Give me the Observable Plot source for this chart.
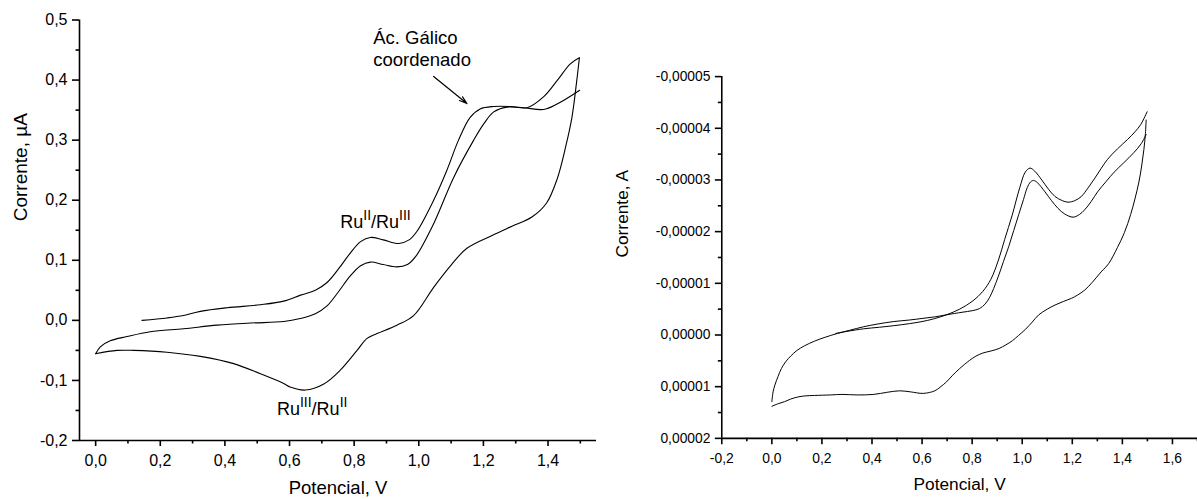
<!DOCTYPE html>
<html><head><meta charset="utf-8">
<script src="https://cdn.jsdelivr.net/npm/d3@7"></script>
<script src="https://cdn.jsdelivr.net/npm/@observablehq/plot@0.6"></script>
<style>
html,body{margin:0;padding:0;background:#fff;overflow:hidden;}
#wrap{position:relative;width:1197px;height:499px;overflow:hidden;background:#fff;}
#left{position:absolute;left:0;top:0;}
#right{position:absolute;left:600px;top:0;}
</style></head><body>
<div id="wrap"><div id="left"></div><div id="right"></div></div>
<script>
// ---------- Left panel data (Potencial V, Corrente µA) ----------
const leftAnodic1 = [
  [0.1435,0.000],[0.221,0.004],[0.272,0.008],[0.324,0.015],[0.407,0.021],[0.510,0.026],
  [0.582,0.032],[0.634,0.042],[0.680,0.050],[0.716,0.063],[0.752,0.086],[0.788,0.112],
  [0.820,0.131],[0.850,0.138],[0.890,0.134],[0.938,0.128],[0.970,0.134],
  [0.994,0.148],[1.046,0.200],[1.087,0.250],[1.123,0.300],[1.159,0.338],[1.190,0.352],
  [1.232,0.356],[1.283,0.356],[1.335,0.354],[1.386,0.372],[1.428,0.399],[1.469,0.427],[1.497,0.437]
];
const leftCathodic = [
  [1.497,0.437],[1.488,0.395],[1.474,0.338],[1.455,0.290],[1.428,0.235],[1.395,0.195],
  [1.350,0.172],[1.290,0.157],[1.230,0.142],[1.149,0.120],[1.100,0.092],[1.046,0.055],
  [0.984,0.008],[0.932,-0.008],[0.871,-0.022],[0.840,-0.030],[0.809,-0.050],[0.757,-0.083],
  [0.706,-0.106],[0.649,-0.116],[0.602,-0.111],[0.582,-0.105],[0.510,-0.089],[0.427,-0.072],
  [0.324,-0.060],[0.221,-0.053],[0.118,-0.050],[0.066,-0.050],[0.000,-0.0555]
];
const leftAnodic2 = [
  [0.000,-0.0555],[0.0145,-0.044],[0.045,-0.034],[0.097,-0.027],[0.169,-0.019],[0.272,-0.014],
  [0.376,-0.008],[0.479,-0.0045],[0.582,-0.002],[0.633,0.003],[0.680,0.011],[0.716,0.024],
  [0.752,0.048],[0.788,0.074],[0.820,0.091],[0.850,0.097],[0.890,0.093],[0.932,0.089],
  [0.965,0.093],[0.990,0.106],[1.046,0.161],[1.108,0.238],[1.170,0.300],
  [1.201,0.327],[1.232,0.347],[1.273,0.355],[1.324,0.354],[1.386,0.351],[1.428,0.360],[1.498,0.383]
];
const leftXTicks = [0,0.2,0.4,0.6,0.8,1.0,1.2,1.4];
const leftXMinor = [0.1,0.3,0.5,0.7,0.9,1.1,1.3,1.5];
const leftYTicks = [-0.2,-0.1,0,0.1,0.2,0.3,0.4,0.5];
const leftYMinor = [-0.15,-0.05,0.05,0.15,0.25,0.35,0.45];
const leftXTitle = "Potencial, V";
const leftYTitle = "Corrente, µA";
const labelOx = "RuII/RuIII", labelOxPos = [0.757, 0.153];
const labelRed = "RuIII/RuII", labelRedPos = [0.561, -0.158];
const labelGallic = "Ác. Gálico\ncoordenado", labelGallicPos = [0.859, 0.423];
const arrowFrom = [1.046, 0.406], arrowTo = [1.149, 0.361];

// ---------- Right panel data (Potencial V, Corrente A) ----------
const rightAnodic1 = [
  [0.255,-0.03e-5],[0.30,-0.07e-5],[0.367,-0.12e-5],[0.43,-0.15e-5],[0.487,-0.18e-5],[0.55,-0.22e-5],
  [0.60,-0.26e-5],[0.645,-0.31e-5],[0.697,-0.39e-5],[0.750,-0.50e-5],[0.803,-0.66e-5],[0.842,-0.84e-5],
  [0.875,-1.08e-5],[0.905,-1.45e-5],[0.930,-1.85e-5],[0.960,-2.32e-5],[0.990,-2.85e-5],[1.012,-3.15e-5],
  [1.031,-3.23e-5],[1.050,-3.17e-5],[1.078,-3.00e-5],[1.105,-2.82e-5],[1.131,-2.68e-5],[1.160,-2.60e-5],
  [1.183,-2.57e-5],[1.210,-2.60e-5],[1.236,-2.68e-5],[1.262,-2.84e-5],[1.288,-3.02e-5],[1.315,-3.22e-5],
  [1.341,-3.40e-5],[1.380,-3.60e-5],[1.420,-3.78e-5],[1.450,-3.93e-5],[1.473,-4.07e-5],[1.499,-4.32e-5]
];
const rightCathodic = [
  [1.495,-4.16e-5],[1.492,-3.90e-5],[1.486,-3.59e-5],[1.477,-3.27e-5],[1.466,-2.96e-5],[1.450,-2.63e-5],
  [1.433,-2.33e-5],[1.408,-1.98e-5],[1.380,-1.69e-5],[1.345,-1.38e-5],[1.315,-1.22e-5],[1.280,-1.02e-5],
  [1.250,-0.87e-5],[1.220,-0.77e-5],[1.197,-0.71e-5],[1.165,-0.65e-5],[1.131,-0.58e-5],[1.100,-0.50e-5],
  [1.066,-0.39e-5],[1.040,-0.25e-5],[1.013,-0.11e-5],[0.985,0.01e-5],[0.961,0.11e-5],[0.935,0.19e-5],
  [0.908,0.26e-5],[0.875,0.31e-5],[0.842,0.35e-5],[0.815,0.41e-5],[0.790,0.49e-5],[0.750,0.65e-5],
  [0.720,0.79e-5],[0.697,0.91e-5],[0.672,1.01e-5],[0.651,1.08e-5],[0.605,1.13e-5],[0.553,1.10e-5],
  [0.510,1.08e-5],[0.459,1.11e-5],[0.407,1.15e-5],[0.341,1.16e-5],[0.280,1.15e-5],[0.235,1.16e-5],
  [0.170,1.17e-5],[0.130,1.18e-5],[0.104,1.20e-5],[0.075,1.24e-5],[0.051,1.29e-5],[0.025,1.33e-5],[0.0,1.38e-5]
];
const rightAnodic2 = [
  [0.0,1.29e-5],[0.005,1.10e-5],[0.012,0.97e-5],[0.025,0.80e-5],[0.038,0.65e-5],[0.055,0.52e-5],
  [0.077,0.40e-5],[0.10,0.30e-5],[0.130,0.21e-5],[0.17,0.12e-5],[0.209,0.05e-5],[0.262,-0.03e-5],
  [0.31,-0.09e-5],[0.367,-0.16e-5],[0.42,-0.21e-5],[0.487,-0.26e-5],[0.55,-0.29e-5],[0.60,-0.32e-5],
  [0.65,-0.35e-5],[0.697,-0.39e-5],[0.76,-0.44e-5],[0.80,-0.47e-5],[0.829,-0.51e-5],[0.852,-0.60e-5],
  [0.870,-0.73e-5],[0.886,-0.90e-5],[0.905,-1.14e-5],[0.925,-1.42e-5],[0.946,-1.71e-5],[0.966,-2.02e-5],
  [0.986,-2.33e-5],[1.005,-2.62e-5],[1.020,-2.85e-5],[1.033,-2.96e-5],[1.045,-2.99e-5],[1.060,-2.95e-5],
  [1.091,-2.77e-5],[1.117,-2.60e-5],[1.143,-2.45e-5],[1.170,-2.34e-5],[1.203,-2.28e-5],[1.228,-2.33e-5],
  [1.249,-2.42e-5],[1.275,-2.58e-5],[1.301,-2.77e-5],[1.335,-2.97e-5],[1.367,-3.15e-5],[1.405,-3.33e-5],
  [1.446,-3.53e-5],[1.475,-3.70e-5],[1.495,-3.88e-5]
];
const rightXTicks = [-0.2,0,0.2,0.4,0.6,0.8,1.0,1.2,1.4,1.6];
const rightXMinor = [-0.1,0.1,0.3,0.5,0.7,0.9,1.1,1.3,1.5,1.7];
const rightYTicks = [-5e-5,-4e-5,-3e-5,-2e-5,-1e-5,0,1e-5,2e-5];
const rightYMinor = [-4.5e-5,-3.5e-5,-2.5e-5,-1.5e-5,-0.5e-5,0.5e-5,1.5e-5];
const rightXTitle = "Potencial, V";
const rightYTitle = "Corrente, A";

// ---------- helpers ----------
const FONT = "'Liberation Sans', Arial, Helvetica, sans-serif";
const comma = (spec) => { const f = d3.format(spec); return v => f(v).replace("\u2212","-").replace(".",","); };
const px = d => d[0], py = d => d[1];
const curveOpts = (w) => ({x: px, y: py, curve: "catmull-rom", stroke: "black", strokeWidth: w});

function superscriptify(svg, supSize, shift) {
  d3.select(svg).selectAll("text").each(function () {
    const m = this.textContent.match(/^Ru(I+)\/Ru(I+)$/);
    if (!m) return;
    const s = d3.select(this);
    s.text(null);
    s.append("tspan").text("Ru");
    s.append("tspan").attr("font-size", supSize).attr("dy", -shift).text(m[1]);
    s.append("tspan").attr("dy", shift).text("/Ru");
    s.append("tspan").attr("font-size", supSize).attr("dy", -shift).text(m[2]);
  });
}

// ---------- Left plot ----------
const xl = [-0.05, 1.55], yl = [-0.2, 0.5];
const left = Plot.plot({
  width: 600, height: 499,
  marginLeft: 79, marginRight: 4, marginTop: 19.5, marginBottom: 59,
  x: {domain: xl}, y: {domain: yl},
  style: {fontFamily: FONT, fontSize: "16px", color: "black", background: "white", overflow: "visible"},
  marks: [
    Plot.axisX({ticks: leftXTicks, tickSize: 6, tickPadding: 8, tickFormat: comma(".1f"), label: null, fontSize: 16, strokeWidth: 1.6}),
    Plot.axisX({ticks: leftXMinor, tickSize: 3.5, tickFormat: () => "", label: null, strokeWidth: 1.6}),
    Plot.axisY({ticks: leftYTicks, tickSize: 7, tickPadding: 5, tickFormat: comma(".1f"), label: null, fontSize: 16, strokeWidth: 1.6}),
    Plot.axisY({ticks: leftYMinor, tickSize: 3.5, tickFormat: () => "", label: null, strokeWidth: 1.6}),
    Plot.ruleX([xl[0]], {stroke: "black", strokeWidth: 1.6}),
    Plot.ruleY([yl[0]], {stroke: "black", strokeWidth: 1.6}),
    Plot.line(leftAnodic1, curveOpts(1.1)),
    Plot.line(leftCathodic, curveOpts(1.1)),
    Plot.line(leftAnodic2, curveOpts(1.1)),
    Plot.text([labelOx], {x: () => labelOxPos[0], y: () => labelOxPos[1], textAnchor: "start", lineAnchor: "bottom", fontSize: 18, fill: "black"}),
    Plot.text([labelRed], {x: () => labelRedPos[0], y: () => labelRedPos[1], textAnchor: "start", lineAnchor: "bottom", fontSize: 18, fill: "black"}),
    Plot.text([labelGallic], {x: () => labelGallicPos[0], y: () => labelGallicPos[1], textAnchor: "start", lineAnchor: "bottom", lineHeight: 1.2, fontSize: 18.5, fill: "black"}),
    Plot.arrow([0], {x1: () => arrowFrom[0], y1: () => arrowFrom[1], x2: () => arrowTo[0], y2: () => arrowTo[1], stroke: "black", strokeWidth: 1.2, headLength: 10, headAngle: 35}),
    Plot.text([leftXTitle], {frameAnchor: "bottom", dy: 47.5, lineAnchor: "middle", fontSize: 18.5, fill: "black"}),
    Plot.text([leftYTitle], {frameAnchor: "left", dx: -58.7, dy: -9, rotate: -90, lineAnchor: "middle", fontSize: 19, fill: "black"})
  ]
});
superscriptify(left, 14, 8.3);
document.getElementById("left").appendChild(left);

// ---------- Right plot ----------
const xr = [-0.2, 1.7], yr = [-5e-5, 2e-5];
const right = Plot.plot({
  width: 604, height: 499,
  marginLeft: 122.7, marginRight: 0, marginTop: 77, marginBottom: 56,
  x: {domain: xr}, y: {domain: yr, reverse: true},
  style: {fontFamily: FONT, fontSize: "14px", color: "black", background: "white", overflow: "visible"},
  marks: [
    Plot.axisX({ticks: rightXTicks, tickSize: 6.5, tickPadding: 8, tickFormat: comma(".1f"), label: null, fontSize: 14, strokeWidth: 1.6}),
    Plot.axisX({ticks: rightXMinor, tickSize: 3.5, tickFormat: () => "", label: null, strokeWidth: 1.6}),
    Plot.axisY({ticks: rightYTicks, tickSize: 6.5, tickPadding: 5, tickFormat: comma(".5f"), label: null, fontSize: 14, strokeWidth: 1.6}),
    Plot.axisY({ticks: rightYMinor, tickSize: 3.5, tickFormat: () => "", label: null, strokeWidth: 1.6}),
    Plot.ruleX([xr[0]], {stroke: "black", strokeWidth: 1.6}),
    Plot.ruleY([yr[1]], {stroke: "black", strokeWidth: 1.6}),
    Plot.line(rightAnodic1, curveOpts(1)),
    Plot.line(rightCathodic, curveOpts(1)),
    Plot.line(rightAnodic2, curveOpts(1)),
    Plot.text([rightXTitle], {frameAnchor: "bottom", dy: 47, lineAnchor: "middle", fontSize: 17.5, fill: "black"}),
    Plot.text([rightYTitle], {frameAnchor: "left", dx: -100.2, rotate: -90, lineAnchor: "middle", fontSize: 17.5, fill: "black"})
  ]
});
document.getElementById("right").appendChild(right);
</script>
</body></html>
